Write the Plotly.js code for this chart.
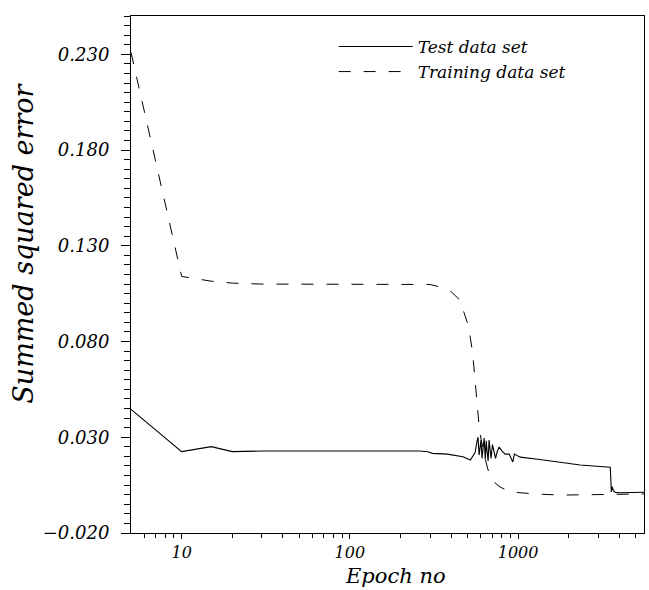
<!DOCTYPE html>
<html>
<head>
<meta charset="utf-8">
<script src="https://cdn.plot.ly/plotly-3.0.1.min.js"></script>
<style>
  html, body { margin: 0; padding: 0; background: #fff; }
  #chart { width: 649px; height: 590px; }
</style>
</head>
<body>
<div id="chart"></div>
<script>
// ---- data ----
const seriesNames = ["Test data set", "Training data set"];

const testEpochs = [5, 10, 15, 20, 30, 50, 100, 200, 260, 290, 310, 380, 470, 520,
  555, 570, 578, 586, 602, 610, 623, 628, 638, 646, 654, 663, 672, 681, 690, 704,
  719, 734, 750, 771, 803, 837, 884, 930, 950, 1028, 1345, 1778, 2339, 3080, 3530,
  3580, 3620, 3680, 3780, 4000, 5000, 5600];
const testError = [0.0446, 0.0225, 0.0251, 0.0225, 0.0228, 0.0228, 0.0228, 0.0228, 0.0228, 0.0224, 0.0216, 0.0212, 0.0198, 0.0181,
  0.0220, 0.0280, 0.0300, 0.0207, 0.0285, 0.0190, 0.0256, 0.0296, 0.0185, 0.0282, 0.0225, 0.0176, 0.0285, 0.0238, 0.0190, 0.0262,
  0.0223, 0.0190, 0.0223, 0.0249, 0.0228, 0.0212, 0.0212, 0.0171, 0.0212, 0.0196, 0.0184, 0.0171, 0.0155, 0.0147, 0.0143,
  0.0015, 0.0042, 0.0022, 0.0012, 0.0010, 0.0012, 0.0013];

const trainEpochs = [5, 10, 15, 20, 30, 50, 100, 200, 300, 343, 400, 451, 507, 536, 551,
  574, 590, 628, 663, 719, 781, 908, 1262, 1778, 3000, 5600];
const trainError = [0.2310, 0.1140, 0.1115, 0.1105, 0.1100, 0.1100, 0.1100, 0.1100, 0.1098, 0.1085, 0.1060, 0.1016, 0.0880, 0.0745, 0.0614,
  0.0468, 0.0332, 0.0207, 0.0129, 0.0066, 0.0040, 0.0014, 0.0004, -0.0002, 0.0002, 0.0004];

const xMajorTicks = [10, 100, 1000];
const xMajorLabels = ["10", "100", "1000"];
const xMinorTicks = [6, 7, 8, 9, 20, 30, 40, 50, 60, 70, 80, 90,
  200, 300, 400, 500, 600, 700, 800, 900, 2000, 3000, 4000, 5000];
const yMajorTicks = [-0.02, 0.03, 0.08, 0.13, 0.18, 0.23];
const yMajorLabels = ["\u22120.020", "0.030", "0.080", "0.130", "0.180", "0.230"];

const xTitle = "Epoch no";
const yTitle = "Summed squared error";

// ---- chart ----
const serif = "DejaVu Serif, Liberation Serif, serif";

const traces = [
  {
    x: testEpochs, y: testError, name: seriesNames[0],
    type: "scatter", mode: "lines",
    line: { color: "#000", width: 1.1, dash: "solid" }
  },
  {
    x: trainEpochs, y: trainError, name: seriesNames[1],
    type: "scatter", mode: "lines", line: { color: "#000", width: 1, dash: "12px,13px" }
  }
];

const layout = {
  width: 649, height: 590,
  margin: { l: 131, r: 5, t: 16, b: 57 },
  paper_bgcolor: "#fff", plot_bgcolor: "#fff",
  font: { family: serif, color: "#000", style: "italic" },
  showlegend: true,
  legend: {
    x: 0.395, y: 0.975, xanchor: "left", yanchor: "top",
    bgcolor: "rgba(0,0,0,0)", borderwidth: 0,
    font: { family: serif, size: 17, style: "italic", color: "#000" },
    itemwidth: 74, tracegroupgap: 0
  },
  xaxis: {
    type: "log",
    range: [Math.log10(5), Math.log10(5600)],
    tickmode: "array", tickvals: xMajorTicks, ticktext: xMajorLabels,
    ticks: "outside", ticklen: 5, tickwidth: 1, tickcolor: "#000",
    ticklabelstandoff: 0,
    minor: { tickmode: "array", tickvals: xMinorTicks, ticks: "outside", ticklen: 4, tickwidth: 1, tickcolor: "#000", showgrid: false },
    showgrid: false, zeroline: false,
    showline: true, linecolor: "#000", linewidth: 1, mirror: true,
    tickfont: { family: serif, size: 16, style: "italic", color: "#000" }
  },
  yaxis: {
    range: [-0.02, 0.25],
    tickmode: "array", tickvals: yMajorTicks, ticktext: yMajorLabels,
    ticks: "outside", ticklen: 9, tickwidth: 1, tickcolor: "#000",
    ticklabelstandoff: 8,
    minor: { tick0: -0.02, dtick: 0.005, ticks: "outside", ticklen: 6, tickwidth: 1, tickcolor: "#000", showgrid: false },
    showgrid: false, zeroline: false,
    showline: true, linecolor: "#000", linewidth: 1, mirror: true,
    tickfont: { family: serif, size: 18, style: "italic", color: "#000" }
  },
  annotations: [
    {
      text: xTitle, showarrow: false,
      xref: "paper", yref: "paper", x: 0.516, y: -0.0832,
      xanchor: "center", yanchor: "middle", borderpad: 0,
      font: { family: serif, size: 21, style: "italic", color: "#000" }
    },
    {
      text: yTitle, textangle: -90, showarrow: false,
      xref: "paper", yref: "paper", x: -0.209, y: 0.561,
      xanchor: "center", yanchor: "middle",
      font: { family: serif, size: 27, style: "italic", color: "#000" }
    }
  ]
};

Plotly.newPlot("chart", traces, layout, { displayModeBar: false, staticPlot: true });
</script>
</body>
</html>
